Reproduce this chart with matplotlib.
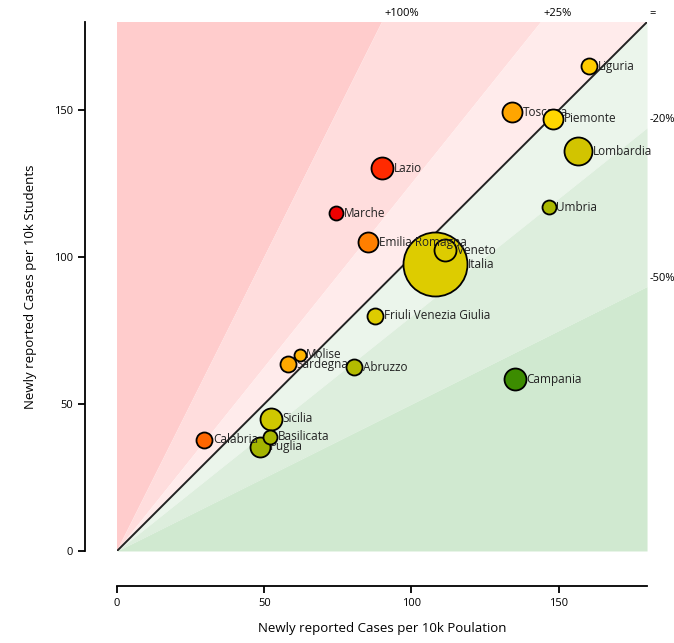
import matplotlib.pyplot as plt
import numpy as np

plt.rcParams['font.family'] = ['Open Sans', 'DejaVu Sans']

# regions: x = cases per 10k population, y = cases per 10k students
regions = ['Italia', 'Lombardia', 'Lazio', 'Veneto', 'Campania', 'Sicilia', 'Toscana',
           'Piemonte', 'Emilia Romagna', 'Puglia', 'Liguria', 'Friuli Venezia Giulia',
           'Sardegna', 'Abruzzo', 'Calabria', 'Marche', 'Umbria', 'Basilicata', 'Molise']
pop_cases = [108, 156.5, 90, 111.5, 135, 52.2, 134.3, 148, 85.2, 48.4, 160.2, 87.6,
             58, 80.5, 29.7, 74.3, 146.6, 52, 62]
student_cases = [97.6, 136, 130.3, 102.4, 58.5, 45, 149.3, 147, 105, 35.4, 165, 80,
                 63.6, 62.6, 37.8, 115, 117, 38.8, 66.7]
radius = [32, 14, 11, 11, 11, 11, 10, 10, 10, 10, 8, 8, 8, 8, 8, 7, 7, 7, 6]
colors = ['#ddcc00', '#d2c400', '#ff2a00', '#ddcc00', '#3c8c00', '#d0c800', '#ffa500',
          '#ffd700', '#ff7f00', '#a4b400', '#ffcc00', '#ddcc00', '#ffa800', '#b4bb00',
          '#ff6600', '#ee0000', '#aab800', '#aab800', '#ffb400']

ratios = [2, 1.25, 1, 0.8, 0.5]
ratio_labels = ['+100%', '+25%', '=', '-20%', '-50%']
band_colors = ['#ffcccc', '#ffdddd', '#ffebeb', '#ebf5eb', '#ddeedd', '#d0e9d0']

lim = 180

fig = plt.figure(figsize=(6.74, 6.43), dpi=100)
ax = fig.add_axes([0.1736, 0.1431, 0.7864, 0.8227])

xs = np.array([0, lim])
bounds = [np.full(2, 1000.0)] + [xs * r for r in ratios] + [np.zeros(2)]
for i, c in enumerate(band_colors):
    ax.fill_between(xs, bounds[i + 1], bounds[i], color=c, lw=0, zorder=0)

ax.plot(xs, xs, color='#222222', lw=1.4, zorder=1)

for r, lab in zip(ratios, ratio_labels):
    px = min(lim, lim / r)
    py = min(lim, lim * r)
    ax.annotate(lab, (px, py), xytext=(1.5, 6), textcoords='offset points',
                ha='left', va='center', fontsize=8, annotation_clip=False)

for i, name in enumerate(regions):
    rpt = radius[i] * 0.72
    ax.scatter(pop_cases[i], student_cases[i], s=(2 * rpt) ** 2, color=colors[i],
               edgecolor='black', linewidth=1.3, zorder=3 + 2 * i, clip_on=False)
    ax.annotate(name, (pop_cases[i], student_cases[i]), xytext=(rpt + 0.5, 0),
                textcoords='offset points', ha='left', va='center', fontsize=8.5,
                color='#222222', zorder=4 + 2 * i, annotation_clip=False)

ax.set_xlim(0, lim)
ax.set_ylim(0, lim)
ax.set_xticks([0, 50, 100, 150])
ax.set_yticks([0, 50, 100, 150])
ax.spines['top'].set_visible(False)
ax.spines['right'].set_visible(False)
ax.spines['left'].set_position(('outward', 23))
ax.spines['bottom'].set_position(('outward', 25))
ax.spines['left'].set_linewidth(1.3)
ax.spines['bottom'].set_linewidth(1.3)
ax.tick_params(length=5, width=1.3, labelsize=8)
ax.set_xlabel('Newly reported Cases per 10k Poulation', fontsize=9.5, labelpad=10)
ax.set_ylabel('Newly reported Cases per 10k Students', fontsize=9.5, labelpad=12)

fig.savefig('out.png', dpi=100)
